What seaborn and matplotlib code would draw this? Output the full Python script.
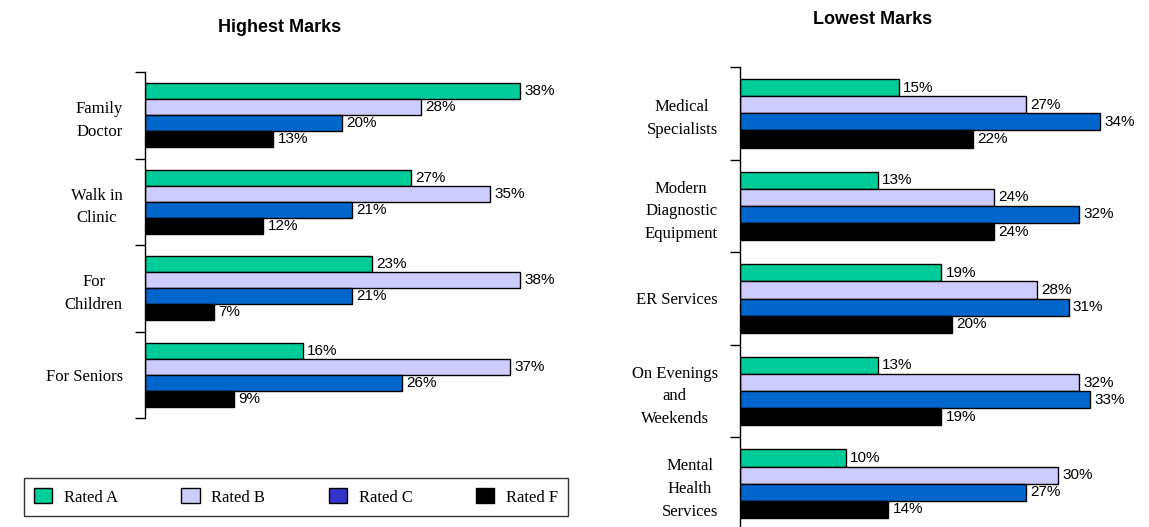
import pandas as pd
import matplotlib.pyplot as plt
import seaborn as sns
from matplotlib.patches import Patch

# dados
ratings = ['Rated A', 'Rated B', 'Rated C', 'Rated F']
high_cats = ['Family\nDoctor', 'Walk in\nClinic', 'For\nChildren', 'For Seniors']
high_a = [38, 27, 23, 16]
high_b = [28, 35, 38, 37]
high_c = [20, 21, 21, 26]
high_f = [13, 12, 7, 9]

low_cats = ['Medical\nSpecialists', 'Modern\nDiagnostic\nEquipment', 'ER Services',
            'On Evenings\nand\nWeekends', 'Mental\nHealth\nServices']
low_a = [15, 13, 19, 13, 10]
low_b = [27, 24, 28, 32, 30]
low_c = [34, 32, 31, 33, 27]
low_f = [22, 24, 20, 19, 14]

bar_colors = ['#00CC99', '#CCCCFF', '#0066CC', '#000000']
legend_colors = ['#00CC99', '#CCCCFF', '#3333CC', '#000000']


def long_df(cats, series):
    rows = []
    for r, vals in zip(ratings, series):
        for c, v in zip(cats, vals):
            rows.append({'cat': c, 'rating': r, 'value': v})
    return pd.DataFrame(rows)


df_high = long_df(high_cats, [high_a, high_b, high_c, high_f])
df_low = long_df(low_cats, [low_a, low_b, low_c, low_f])

sns.set_theme(style='white')
plt.rcParams['font.family'] = ['Liberation Serif', 'DejaVu Serif']
plt.rcParams['text.color'] = 'black'
plt.rcParams['ytick.labelcolor'] = 'black'
plt.rcParams['ytick.color'] = 'black'

fig = plt.figure(figsize=(11.49, 5.27), dpi=100)
ax1 = fig.add_axes([145 / 1149, 1 - 418 / 527, 400 / 1149, 346 / 527])
ax2 = fig.add_axes([740 / 1149, 1 - 530 / 527, 400 / 1149, 463 / 527])


def draw(ax, df, cats, xmax, title, title_x, title_y):
    sns.barplot(data=df, y='cat', x='value', hue='rating', orient='h',
                palette=bar_colors, width=0.74, edgecolor='black', linewidth=1,
                saturation=1, ax=ax, legend=False)
    for cont in ax.containers:
        ax.bar_label(cont, fmt='%d%%', padding=3, fontsize=11, color='black',
                     family='Liberation Sans')
    n = len(cats)
    ax.set_xlim(0, xmax)
    ax.set_ylim(n - 0.5, -0.5)
    ax.set_xlabel('')
    ax.set_ylabel('')
    ax.set_xticks([])
    ax.set_yticks(range(n))
    ax.set_yticklabels(cats, fontsize=12, multialignment='center', linespacing=1.55,
                       color='black')
    ax.set_yticks([i - 0.5 for i in range(n + 1)], minor=True)
    ax.tick_params(axis='y', which='major', length=0, pad=16)
    ax.tick_params(axis='y', which='minor', length=7, width=1, color='black', left=True)
    for s in ['top', 'right', 'bottom']:
        ax.spines[s].set_visible(False)
    ax.spines['left'].set_color('black')
    ax.spines['left'].set_linewidth(1)
    fig.text(title_x, title_y, title, ha='center', va='center', fontsize=13,
             fontweight='bold', family='Liberation Sans', color='black')


draw(ax1, df_high, high_cats, 400 / 9.87, 'Highest Marks', 280 / 1149, 1 - 27 / 527)
draw(ax2, df_low, low_cats, 400 / 10.6, 'Lowest Marks', 873 / 1149, 1 - 20 / 527)

handles = [Patch(facecolor=c, edgecolor='black', linewidth=1) for c in legend_colors]
leg = fig.legend(handles, ratings, loc='center', bbox_to_anchor=(296 / 1149, 1 - 497 / 527),
                 ncol=4, frameon=True, fancybox=False, edgecolor='black', fontsize=12,
                 handlelength=1.1, handleheight=1.0, columnspacing=3.8, handletextpad=0.7,
                 borderpad=0.6)
leg.get_frame().set_linewidth(1)

fig.savefig('out.png', dpi=100)
